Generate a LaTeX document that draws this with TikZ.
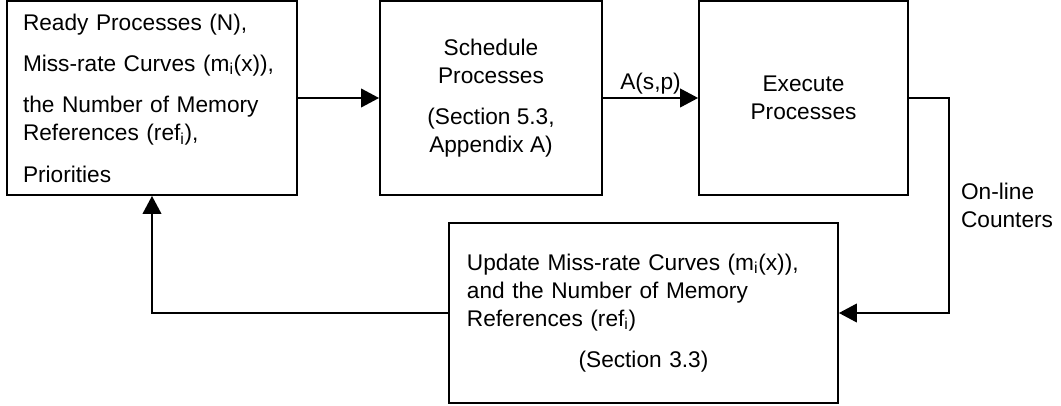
\documentclass[tikz,border=0pt]{standalone}
\usepackage{fontspec}
\setmainfont{Liberation Sans}
\usetikzlibrary{arrows.meta}

\begin{document}
\begin{tikzpicture}[line width=1.4pt, >={Triangle[length=13.5pt,width=14pt]}, every node/.style={font=\fontsize{17pt}{21pt}\selectfont}, block/.style={rectangle, draw, minimum height=145.5pt}]

    \useasboundingbox (0,0) rectangle (795.75pt,-304.5pt);

    \node[block, minimum width=217.5pt, text width=193.5pt, inner xsep=12pt, align=left] (ready) at (114pt,-73.5pt) {Ready Processes (N),\\[10pt] Miss-rate Curves (m\textsubscript{i}(x)),\\[10pt] the Number of Memory\\ References (ref\textsubscript{i}),\\[10pt] Priorities};
    \node[block, right of=ready, node distance=254.25pt, minimum width=166.5pt, align=center] (sched) {Schedule\\ Processes\\[10pt] (Section 5.3,\\ Appendix A)};
    \node[block, right of=sched, node distance=234.4pt, minimum width=156.75pt, align=center] (exec) {Execute\\ Processes};
    \node[block, minimum width=291.75pt, minimum height=135pt, text width=264.75pt, inner xsep=13.5pt, align=left] (upd) at (482.6pt,-234.75pt) {Update Miss-rate Curves (m\textsubscript{i}(x)),\\ and the Number of Memory\\ References (ref\textsubscript{i})\\[10pt] \makebox[\hsize]{(Section 3.3)}};
    \node[coordinate, right of=exec, node distance=109.1pt] (turn) {};
    \node[coordinate, below of=turn, node distance=161.25pt] (back) {};

    \draw[->] (ready) -- (sched);
    \draw[->] (sched) -- node[above, inner sep=2pt] {A(s,p)} (exec);
    \draw[->] (exec.east) -- (turn) -- node[right, xshift=5pt, align=left] {On-line\\ Counters} (back) -- (upd.east);
    \draw[->] (upd.west) -| (ready.south);
  \end{tikzpicture}
\end{document}
